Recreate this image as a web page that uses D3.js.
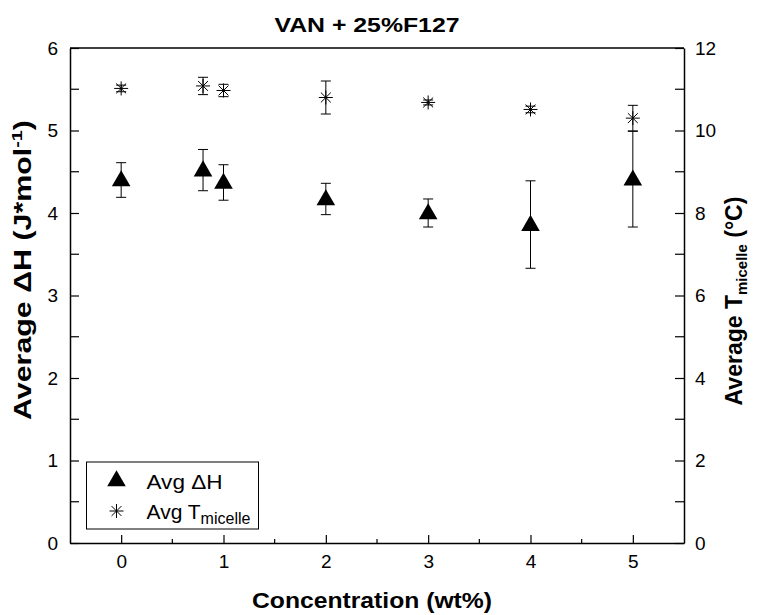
<!DOCTYPE html>
<html>
<head>
<meta charset="utf-8">
<script src="https://cdn.jsdelivr.net/npm/d3@7"></script>
<style>
  body { margin: 0; background: #fff; }
  svg text { font-family: "Liberation Sans", Arial, sans-serif; fill: #000; }
</style>
</head>
<body>
<div id="plot"></div>
<script>
// Data
const conc = [0, 0.8, 1, 2, 3, 4, 5];
const dH = [4.40, 4.52, 4.37, 4.17, 4.00, 3.86, 4.41];
const dHErr = [0.21, 0.25, 0.215, 0.19, 0.17, 0.53, 0.58];
const tMic = [11.02, 11.08, 10.97, 10.80, 10.68, 10.51, 10.30];
const tMicErr = [0.08, 0.21, 0.15, 0.40, 0.06, 0.08, 0.31];
const xTicks = [0, 1, 2, 3, 4, 5];
const yLeftTicks = [0, 1, 2, 3, 4, 5, 6];
const yRightTicks = [0, 2, 4, 6, 8, 10, 12];

const W = 757, H = 615;
const margin = {top: 48, right: 73, bottom: 72, left: 70};
const width = W - margin.left - margin.right;
const height = H - margin.top - margin.bottom;

const svg = d3.select("#plot")
    .append("svg")
    .attr("width", W)
    .attr("height", H);

const g = svg.append("g")
    .attr("transform", `translate(${margin.left},${margin.top})`);

const x = d3.scaleLinear().domain([-0.5, 5.5]).range([0, width]);
const yL = d3.scaleLinear().domain([0, 6]).range([height, 0]);
const yR = d3.scaleLinear().domain([0, 12]).range([height, 0]);

// top frame line, no ticks
g.append("line")
    .attr("x1", 0).attr("x2", width).attr("y1", 0).attr("y2", 0)
    .attr("stroke", "#000").attr("stroke-width", 1.5);

// minor ticks
const minorX = [0.5, 1.5, 2.5, 3.5, 4.5];
g.selectAll(".mx").data(minorX).join("line")
    .attr("x1", d => x(d)).attr("x2", d => x(d))
    .attr("y1", height).attr("y2", height - 4)
    .attr("stroke", "#000").attr("stroke-width", 1.2);
const minorL = [0.5, 1.5, 2.5, 3.5, 4.5, 5.5];
g.selectAll(".ml").data(minorL).join("line")
    .attr("x1", 0).attr("x2", 9)
    .attr("y1", d => yL(d)).attr("y2", d => yL(d))
    .attr("stroke", "#000").attr("stroke-width", 1.2);
const minorR = [1, 3, 5, 7, 9, 11];
g.selectAll(".mr").data(minorR).join("line")
    .attr("x1", width).attr("x2", width - 9)
    .attr("y1", d => yR(d)).attr("y2", d => yR(d))
    .attr("stroke", "#000").attr("stroke-width", 1.2);

// axes
const fmt = d3.format("d");
const xAxis = g.append("g")
    .attr("transform", `translate(0,${height})`)
    .call(d3.axisBottom(x).tickValues(xTicks).tickFormat(fmt).tickSizeInner(-8).tickSizeOuter(0).tickPadding(12));
const leftAxis = g.append("g")
    .call(d3.axisLeft(yL).tickValues(yLeftTicks).tickFormat(fmt).tickSizeInner(-9).tickSizeOuter(0).tickPadding(12));
const rightAxis = g.append("g")
    .attr("transform", `translate(${width},0)`)
    .call(d3.axisRight(yR).tickValues(yRightTicks).tickFormat(fmt).tickSizeInner(-9).tickSizeOuter(0).tickPadding(11));

[xAxis, leftAxis, rightAxis].forEach(a => {
    a.select(".domain").attr("stroke-width", 1.5);
    a.selectAll(".tick line").attr("stroke-width", 1.2);
    a.selectAll("text").attr("font-size", 19).attr("font-family", "Liberation Sans, Arial, sans-serif");
});

// error bars
function errBars(cls, vals, errs, y) {
    const grp = g.append("g").attr("class", cls);
    conc.forEach((c, i) => {
        const cx = x(c), top = y(vals[i] + errs[i]), bot = y(vals[i] - errs[i]);
        grp.append("line").attr("x1", cx).attr("x2", cx).attr("y1", top).attr("y2", bot)
            .attr("stroke", "#000").attr("stroke-width", 1);
        [top, bot].forEach(yy => grp.append("line")
            .attr("x1", cx - 5).attr("x2", cx + 5).attr("y1", yy).attr("y2", yy)
            .attr("stroke", "#000").attr("stroke-width", 1));
    });
}
errBars("errT", tMic, tMicErr, yR);
errBars("errH", dH, dHErr, yL);

// markers
const triPath = d3.symbol().type(d3.symbolTriangle).size(150)();
function star(sel, r) {
    [0, 45, 90, 135].forEach(a => {
        const rad = a * Math.PI / 180;
        sel.append("line")
            .attr("x1", -r * Math.cos(rad)).attr("y1", -r * Math.sin(rad))
            .attr("x2", r * Math.cos(rad)).attr("y2", r * Math.sin(rad))
            .attr("stroke", "#000").attr("stroke-width", 1);
    });
}

g.selectAll(".tri").data(conc).join("path")
    .attr("d", triPath)
    .attr("transform", (d, i) => `translate(${x(d)},${yL(dH[i]) + 1})`)
    .attr("fill", "#000");

conc.forEach((c, i) => {
    const s = g.append("g").attr("transform", `translate(${x(c)},${yR(tMic[i])})`);
    star(s, 7);
});

// legend
const leg = g.append("g").attr("transform", `translate(${86.5 - margin.left},${462 - margin.top})`);
leg.append("rect").attr("width", 172).attr("height", 67)
    .attr("fill", "#fff").attr("stroke", "#000").attr("stroke-width", 1);
leg.append("path").attr("d", triPath)
    .attr("transform", "translate(30,19)").attr("fill", "#000");
leg.append("text").attr("x", 60).attr("y", 27).attr("font-size", 21)
    .attr("textLength", 76).attr("lengthAdjust", "spacingAndGlyphs").text("Avg \u0394H");
const ls = leg.append("g").attr("transform", "translate(30,49)");
star(ls, 7);
const lt = leg.append("text").attr("x", 60).attr("y", 57).attr("font-size", 21);
lt.append("tspan").text("Avg T");
lt.append("tspan").attr("font-size", 16).attr("dy", 5).text("micelle");

// title and axis labels
svg.append("text")
    .attr("x", 367).attr("y", 32)
    .attr("text-anchor", "middle").attr("font-size", 21).attr("font-weight", "bold")
    .attr("textLength", 185).attr("lengthAdjust", "spacingAndGlyphs")
    .text("VAN + 25%F127");

svg.append("text")
    .attr("x", 372).attr("y", 608)
    .attr("text-anchor", "middle").attr("font-size", 22).attr("font-weight", "bold")
    .attr("textLength", 240).attr("lengthAdjust", "spacingAndGlyphs")
    .text("Concentration (wt%)");

const ylab = svg.append("text")
    .attr("transform", `translate(31,${270}) rotate(-90)`)
    .attr("text-anchor", "middle").attr("font-size", 23).attr("font-weight", "bold")
    .attr("textLength", 300).attr("lengthAdjust", "spacingAndGlyphs");
ylab.append("tspan").text("Average \u0394H (J*mol");
ylab.append("tspan").attr("font-size", 15).attr("dy", -9).text("-1");
ylab.append("tspan").attr("dy", 9).text(")");

const yrlab = svg.append("text")
    .attr("transform", `translate(742,${301}) rotate(-90)`)
    .attr("text-anchor", "middle").attr("font-size", 23).attr("font-weight", "bold");
yrlab.append("tspan").text("Average T");
yrlab.append("tspan").attr("font-size", 15).attr("dy", 5).text("micelle");
yrlab.append("tspan").attr("dy", -5).text(" (\u00B0C)");
</script>
</body>
</html>
